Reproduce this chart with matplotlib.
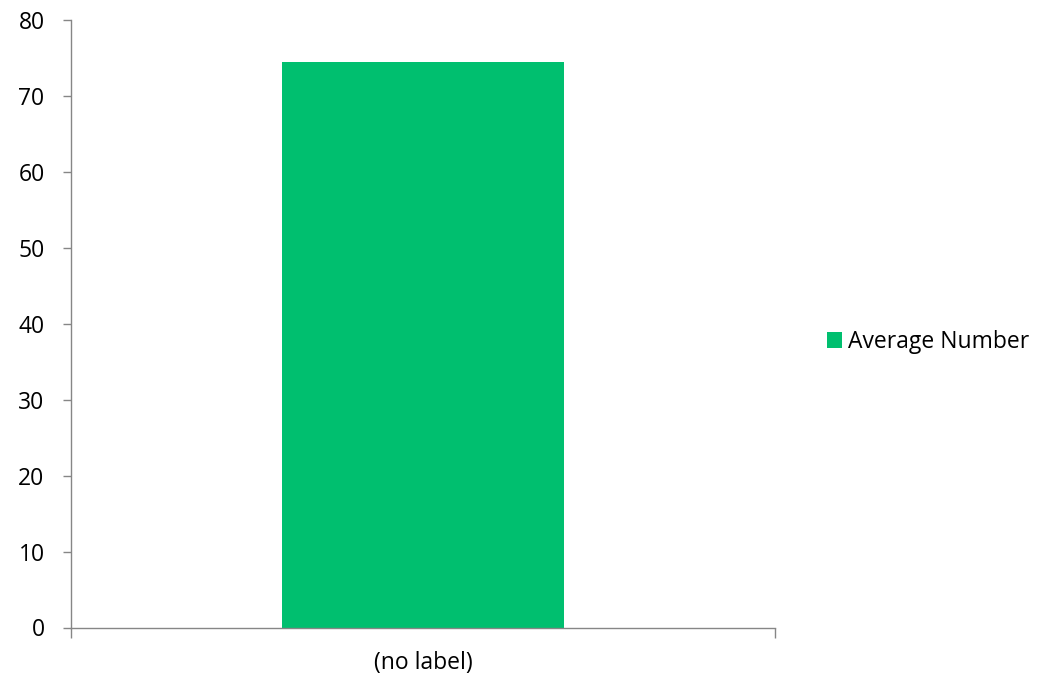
import matplotlib
matplotlib.use("Agg")
import matplotlib.pyplot as plt
from matplotlib.patches import Patch

# chart data
categories = ["(no label)"]
average_number = [74.5]
series_name = "Average Number"
y_ticks = [0, 10, 20, 30, 40, 50, 60, 70, 80]

plt.rcParams['font.family'] = ['Open Sans', 'DejaVu Sans']

W, H = 1047, 676
fig = plt.figure(figsize=(W / 100, H / 100), dpi=100)
ax = fig.add_axes([71 / W, (H - 627.5) / H, (775 - 71) / W, (627.5 - 20) / H])

bar_color = '#00BF6F'
ax.bar(range(len(categories)), average_number, width=0.4, color=bar_color)

ax.set_xlim(-0.5, len(categories) - 0.5)
ax.set_ylim(0, 80)
ax.set_yticks(y_ticks)
ax.set_xticks(range(len(categories)))
ax.set_xticklabels(categories)
ax.set_xticks([-0.5, len(categories) - 0.5], minor=True)

axis_color = '#868686'
for side in ['top', 'right']:
    ax.spines[side].set_visible(False)
for side in ['left', 'bottom']:
    ax.spines[side].set_color(axis_color)
    ax.spines[side].set_linewidth(1.0)

fs = 16.5
ax.tick_params(axis='y', direction='out', length=6, width=1, color=axis_color,
               labelsize=fs, pad=13, labelcolor='black')
ax.tick_params(axis='x', which='major', length=0, labelsize=fs, pad=17)
ax.tick_params(axis='x', which='minor', direction='out', length=7, width=1, color=axis_color)

handle = Patch(facecolor=bar_color, edgecolor='none', label=series_name)
fig.legend(handles=[handle], loc='center left', bbox_to_anchor=(806 / W, 1 - 342 / H),
           frameon=False, fontsize=fs, handlelength=0.65, handleheight=0.65,
           handletextpad=0.3)

fig.savefig("out.png", dpi=100)
